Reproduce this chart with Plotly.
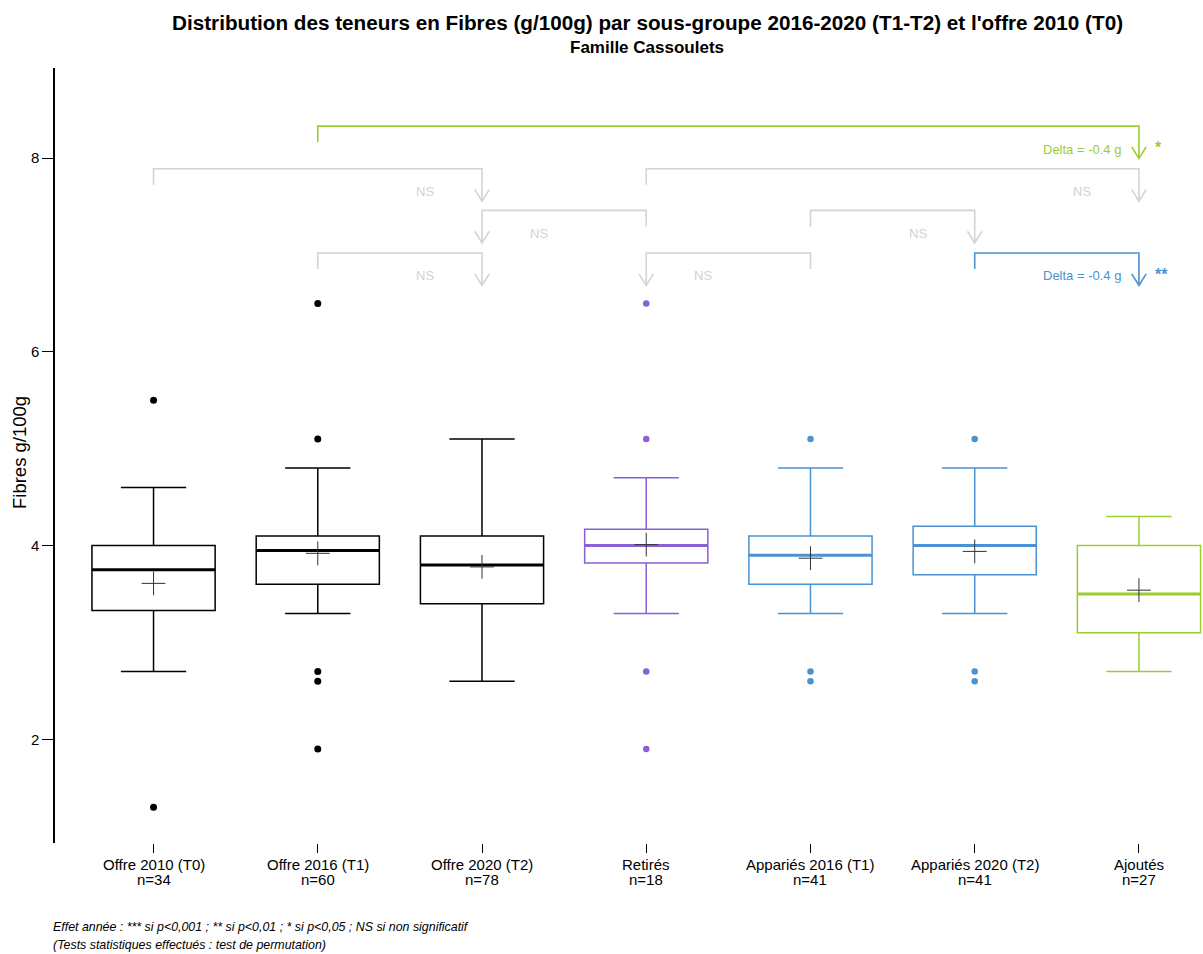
import plotly.graph_objects as go

# ---------------- data ----------------
categories = ["Offre 2010 (T0)", "Offre 2016 (T1)", "Offre 2020 (T2)", "Retirés",
              "Appariés 2016 (T1)", "Appariés 2020 (T2)", "Ajoutés"]
n_counts = [34, 60, 78, 18, 41, 41, 27]
q1_vals = [3.33, 3.60, 3.40, 3.82, 3.60, 3.70, 3.10]
median_vals = [3.75, 3.95, 3.80, 4.00, 3.90, 4.00, 3.50]
q3_vals = [4.00, 4.10, 4.10, 4.17, 4.10, 4.20, 4.00]
lower_whisker = [2.70, 3.30, 2.60, 3.30, 3.30, 3.30, 2.70]
upper_whisker = [4.60, 4.80, 5.10, 4.70, 4.80, 4.80, 4.30]
mean_vals = [3.61, 3.92, 3.78, 4.01, 3.87, 3.94, 3.54]
outliers = [
    [5.5, 1.3],
    [6.5, 5.1, 2.7, 2.6, 1.9],
    [],
    [6.5, 5.1, 2.7, 1.9],
    [5.1, 2.7, 2.6],
    [5.1, 2.7, 2.6],
    [],
]
group_colors = ["#000000", "#000000", "#000000", "#8A60D6", "#4A92D2", "#4A92D2", "#9ACD32"]

# comparisons: tail category index, arrow category index, level, label, color, stars
comp_from = [1, 0, 3, 3, 4, 1, 4, 5]
comp_to = [6, 2, 6, 2, 5, 2, 3, 6]
comp_level = [8.33, 7.89, 7.89, 7.46, 7.46, 7.02, 7.02, 7.02]
comp_label = ["Delta = -0.4 g", "NS", "NS", "NS", "NS", "NS", "NS", "Delta = -0.4 g"]
comp_color = ["#9ACD32", "#D3D3D3", "#D3D3D3", "#D3D3D3", "#D3D3D3", "#D3D3D3", "#D3D3D3", "#4A92D2"]
comp_stars = ["*", "", "", "", "", "", "", "**"]

yticks = [2, 4, 6, 8]

FONT = "Liberation Sans, Arial, sans-serif"
BOX_W = 0.75

fig = go.Figure()

xs = list(range(len(categories)))
for i, c in enumerate(categories):
    col = group_colors[i]
    fig.add_trace(go.Box(
        x=[i], q1=[q1_vals[i]], median=[median_vals[i]], q3=[q3_vals[i]],
        lowerfence=[lower_whisker[i]], upperfence=[upper_whisker[i]],
        width=BOX_W, whiskerwidth=0.53, boxpoints=False,
        line=dict(color=col, width=1.5), fillcolor="rgba(0,0,0,0)",
        showlegend=False, hoverinfo="skip"))
    # thick median
    fig.add_trace(go.Scatter(
        x=[i - BOX_W / 2, i + BOX_W / 2], y=[median_vals[i], median_vals[i]],
        mode="lines", line=dict(color=col, width=3), showlegend=False, hoverinfo="skip"))
    # outliers
    if outliers[i]:
        fig.add_trace(go.Scatter(
            x=[i] * len(outliers[i]), y=outliers[i], mode="markers",
            marker=dict(color=col, size=7 if col == "#000000" else 6.5),
            showlegend=False, hoverinfo="skip"))

# means
fig.add_trace(go.Scatter(
    x=xs, y=mean_vals, mode="markers",
    marker=dict(symbol="cross-thin", size=17, line=dict(color="#333333", width=1)),
    showlegend=False, hoverinfo="skip"))

# comparison brackets
TAIL = 0.165
DROP = 0.335
HEAD_W = 0.044
HEAD_H = 0.12
for k in range(len(comp_from)):
    a, b, lv = comp_from[k], comp_to[k], comp_level[k]
    col = comp_color[k]
    tip = lv - DROP
    xl = [a, a, b, b, None, b - HEAD_W, b, b + HEAD_W]
    yl = [lv - TAIL, lv, lv, tip, None, tip + HEAD_H, tip, tip + HEAD_H]
    fig.add_trace(go.Scatter(x=xl, y=yl, mode="lines", line=dict(color=col, width=1.6),
                             showlegend=False, hoverinfo="skip"))
    side = 1 if a > b else -1
    fig.add_annotation(x=b + side * 0.345, y=lv - 0.237, xref="x", yref="y",
                       text=comp_label[k], showarrow=False,
                       font=dict(family=FONT, size=13, color=col))
    if comp_stars[k]:
        fig.add_annotation(x=b + 0.085, y=lv - 0.225, xref="x", yref="y",
                           text="<b>" + comp_stars[k] + "</b>", showarrow=False,
                           xanchor="left",
                           font=dict(family=FONT, size=16, color=col))

W, H = 1203, 954
ML, MR, MT, MB = 55, 0, 68, 111
pw = W - ML - MR
ph = H - MT - MB

def px_x(px):
    return (px - ML) / pw

def px_y(py):
    return 1 - (py - MT) / ph

# category labels (two lines, tight spacing)
for i, c in enumerate(categories):
    fig.add_annotation(x=i, y=px_y(864), xref="x", yref="paper", text=c,
                       showarrow=False, xanchor="center", yanchor="middle",
                       font=dict(family=FONT, size=15, color="black"))
    fig.add_annotation(x=i, y=px_y(879), xref="x", yref="paper", text=f"n={n_counts[i]}",
                       showarrow=False, xanchor="center", yanchor="middle",
                       font=dict(family=FONT, size=15, color="black"))

fig.update_layout(
    width=W, height=H,
    margin=dict(l=ML, r=MR, t=MT, b=MB, pad=0),
    paper_bgcolor="white", plot_bgcolor="white",
    font=dict(family=FONT, size=15, color="black"),
    xaxis=dict(range=[-0.6, 6.39], tickvals=xs, showticklabels=False,
               showline=False, showgrid=False, zeroline=False,
               ticks="outside", ticklen=9, tickwidth=1, tickcolor="black"),
    yaxis=dict(range=[0.93, 8.93], tickvals=yticks, showline=True, linecolor="black",
               linewidth=1.5, showgrid=False, zeroline=False,
               ticks="outside", ticklen=11, tickwidth=1, tickcolor="black",
               tickfont=dict(family=FONT, size=15, color="black")),
    showlegend=False,
)

fig.add_annotation(x=px_x(647), y=px_y(22), xref="paper", yref="paper",
                   text="<b>Distribution des teneurs en Fibres (g/100g) par sous-groupe 2016-2020 (T1-T2) et l'offre 2010 (T0)</b>",
                   showarrow=False, font=dict(family=FONT, size=20.7, color="black"),
                   xanchor="center", yanchor="middle")
fig.add_annotation(x=px_x(647), y=px_y(48), xref="paper", yref="paper",
                   text="<b>Famille Cassoulets</b>", showarrow=False,
                   font=dict(family=FONT, size=17, color="black"),
                   xanchor="center", yanchor="middle")
fig.add_annotation(x=px_x(19), y=px_y(453), xref="paper", yref="paper",
                   text="Fibres g/100g", textangle=-90, showarrow=False,
                   font=dict(family=FONT, size=18.5, color="black"),
                   xanchor="center", yanchor="middle")
fig.add_annotation(x=px_x(51), y=px_y(927), xref="paper", yref="paper",
                   text="<i>Effet année : *** si p<0,001 ; ** si p<0,01 ; * si p<0,05 ; NS si non significatif</i>",
                   showarrow=False, font=dict(family=FONT, size=12.4, color="black"),
                   xanchor="left", yanchor="middle")
fig.add_annotation(x=px_x(51), y=px_y(945), xref="paper", yref="paper",
                   text="<i>(Tests statistiques effectués : test de permutation)</i>",
                   showarrow=False, font=dict(family=FONT, size=12.4, color="black"),
                   xanchor="left", yanchor="middle")

fig.write_html("out.html", config={"displayModeBar": False},
               post_script="document.body.style.margin='0';document.body.style.overflow='hidden';")
